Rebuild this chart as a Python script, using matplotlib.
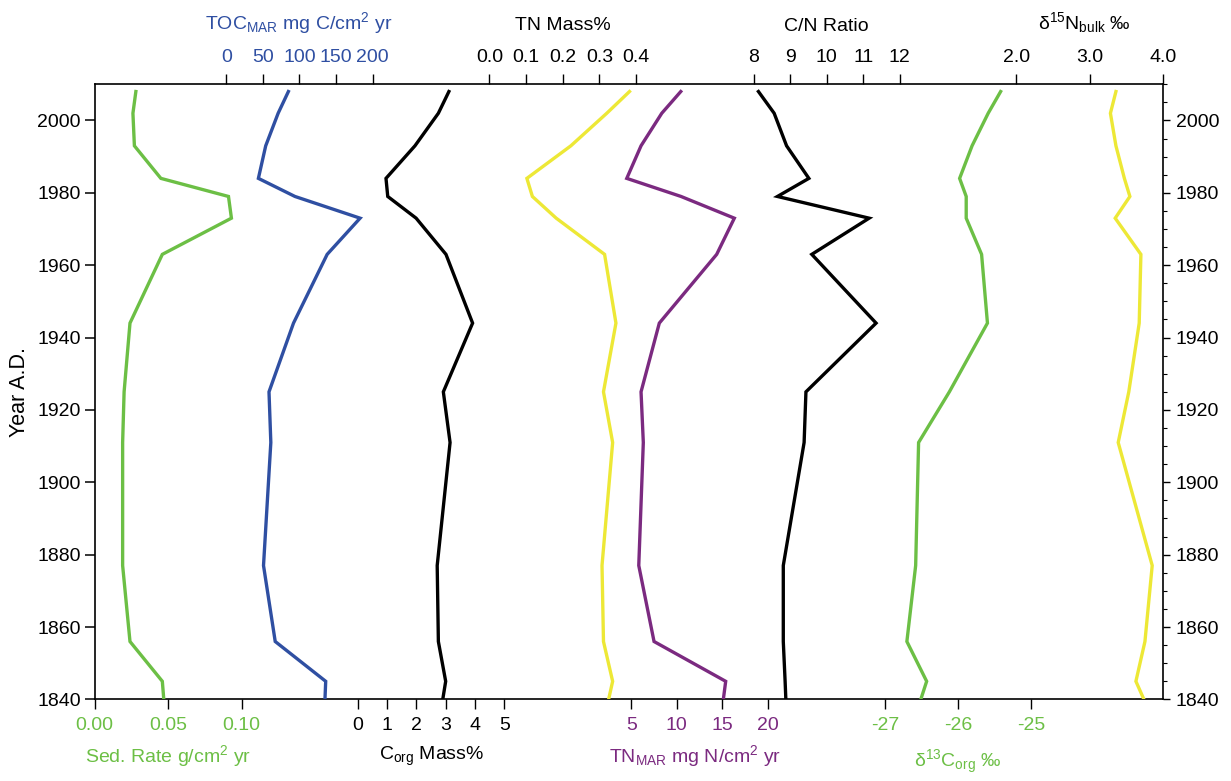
import matplotlib
matplotlib.use("Agg")
import matplotlib.pyplot as plt
from matplotlib.ticker import MultipleLocator

plt.rcParams["font.family"] = ["Liberation Sans", "DejaVu Sans"]
plt.rcParams["mathtext.fontset"] = "custom"
plt.rcParams["mathtext.rm"] = "Liberation Sans"
plt.rcParams["mathtext.it"] = "Liberation Sans:italic"
plt.rcParams["mathtext.bf"] = "Liberation Sans:bold"

# ---- core data (Year A.D.) ----
years = [2008, 2002, 1993, 1984, 1979, 1973, 1963, 1944, 1925, 1911, 1877, 1856, 1845, 1840]
sed_rate = [0.028, 0.026, 0.027, 0.045, 0.091, 0.093, 0.046, 0.024, 0.020, 0.019, 0.019, 0.024, 0.046, 0.047]
toc_mar = [85, 71, 54, 44, 94, 183, 138, 92, 58.5, 61, 51, 67, 136, 135]
corg_pct = [3.11, 2.75, 1.95, 0.96, 1.02, 1.99, 3.01, 3.92, 2.92, 3.15, 2.71, 2.75, 3.00, 2.90]
tn_pct = [0.382, 0.320, 0.222, 0.102, 0.117, 0.182, 0.314, 0.345, 0.311, 0.336, 0.307, 0.311, 0.336, 0.325]
tn_mar = [10.43, 8.34, 6.06, 4.49, 10.46, 16.32, 14.38, 8.07, 6.06, 6.31, 5.81, 7.49, 15.37, 15.11]
cn_ratio = [8.13, 8.56, 8.90, 9.51, 8.65, 11.16, 9.59, 11.35, 9.43, 9.38, 8.81, 8.81, 8.86, 8.88]
d13c_org = [-25.42, -25.59, -25.81, -25.98, -25.89, -25.89, -25.68, -25.60, -26.12, -26.54, -26.58, -26.70, -26.43, -26.51]
d15n_bulk = [3.355, 3.28, 3.355, 3.47, 3.545, 3.345, 3.695, 3.672, 3.53, 3.386, 3.849, 3.75, 3.627, 3.736]

# tick values and labels for each proxy scale
sed_ticks = [0.0, 0.05, 0.10]
sed_labels = ["0.00", "0.05", "0.10"]
toc_ticks = [0, 50, 100, 150, 200]
corg_ticks = [0, 1, 2, 3, 4, 5]
tnp_ticks = [0.0, 0.1, 0.2, 0.3, 0.4]
tnp_labels = ["0.0", "0.1", "0.2", "0.3", "0.4"]
tnm_ticks = [5, 10, 15, 20]
cn_ticks = [8, 9, 10, 11, 12]
d13_ticks = [-27, -26, -25]
d15_ticks = [2.0, 3.0, 4.0]
d15_labels = ["2.0", "3.0", "4.0"]

GREEN = "#6cbf45"
BLUE = "#2f4fa2"
PURPLE = "#7b2a80"
YELLOW = "#ede836"
BLACK = "#000000"

W, H = 1231, 781
L, R, T, B = 94.7, 1163.3, 84.3, 699.4
fig = plt.figure(figsize=(W / 100, H / 100), dpi=100)
ax = fig.add_axes([L / W, 1 - B / H, (R - L) / W, (B - T) / H])
ax.set_ylim(1840, 2010)
ax.set_xticks([])
for s in ax.spines.values():
    s.set_linewidth(1.2)
ax.yaxis.set_major_locator(MultipleLocator(20))
ax.tick_params(axis="y", direction="out", length=7, width=1.1, labelsize=14, pad=3)
ax.set_ylabel("Year A.D.", fontsize=15.5, labelpad=5)

ay = ax.twinx()
ay.set_ylim(1840, 2010)
ay.yaxis.set_major_locator(MultipleLocator(20))
ay.yaxis.set_minor_locator(MultipleLocator(5))
ay.tick_params(axis="y", which="major", direction="out", length=5, width=1.0, labelsize=14, pad=4)
ay.tick_params(axis="y", which="minor", direction="out", length=3, width=0.8)
for s in ay.spines.values():
    s.set_visible(False)


def proxy_axis(values, color, ref_val, ref_px, px_per_unit, ticks, labels, side, label_color):
    tw = ax.twiny()
    lo = ref_val - (ref_px - L) / px_per_unit
    hi = ref_val + (R - ref_px) / px_per_unit
    tw.set_xlim(lo, hi)
    tw.set_ylim(1840, 2010)
    for s in tw.spines.values():
        s.set_visible(False)
    tw.xaxis.set_ticks_position(side)
    tw.set_xticks(ticks)
    tw.set_xticklabels(labels if labels is not None else [str(t) for t in ticks])
    tw.tick_params(axis="x", direction="out", length=7, width=1.0, labelsize=14,
                   pad=6, colors=BLACK)
    tw.tick_params(axis="x", labelcolor=label_color)
    tw.plot(values, years, color=color, lw=2.4, solid_joinstyle="miter", clip_on=True)
    return tw


proxy_axis(sed_rate, GREEN, 0.0, 94.1, 1471.0, sed_ticks, sed_labels, "bottom", GREEN)
proxy_axis(toc_mar, BLUE, 0, 226.2, 0.7316, toc_ticks, None, "top", BLUE)
proxy_axis(corg_pct, BLACK, 0, 357.9, 29.26, corg_ticks, None, "bottom", BLACK)
proxy_axis(tn_pct, YELLOW, 0.0, 489.5, 366.5, tnp_ticks, tnp_labels, "top", BLACK)
proxy_axis(tn_mar, PURPLE, 5, 631.4, 9.093, tnm_ticks, None, "bottom", PURPLE)
proxy_axis(cn_ratio, BLACK, 8, 753.7, 36.53, cn_ticks, None, "top", BLACK)
proxy_axis(d13c_org, GREEN, -27, 884.9, 73.25, d13_ticks, None, "bottom", GREEN)
proxy_axis(d15n_bulk, YELLOW, 2.0, 1016.5, 73.45, d15_ticks, d15_labels, "top", BLACK)


def ftext(px, py, s, color, **kw):
    fig.text(px / W, 1 - py / H, s, color=color, fontsize=14, ha="center", va="baseline", **kw)


ftext(299, 29, r"TOC$_{\mathregular{MAR}}$ mg C/cm$^{\mathregular{2}}$ yr", BLUE)
ftext(563, 30, "TN Mass%", BLACK)
ftext(826, 31, "C/N Ratio", BLACK)
ftext(1084, 29, r"δ$^{\mathregular{15}}$N$_{\mathregular{bulk}}$ ‰", BLACK)
ftext(168, 762, r"Sed. Rate g/cm$^{\mathregular{2}}$ yr", GREEN)
ftext(432, 760, r"C$_{\mathregular{org}}$ Mass%", BLACK)
ftext(695, 762, r"TN$_{\mathregular{MAR}}$ mg N/cm$^{\mathregular{2}}$ yr", PURPLE)
ftext(958, 767, r"δ$^{\mathregular{13}}$C$_{\mathregular{org}}$ ‰", GREEN)

fig.savefig("out.png", dpi=100)
